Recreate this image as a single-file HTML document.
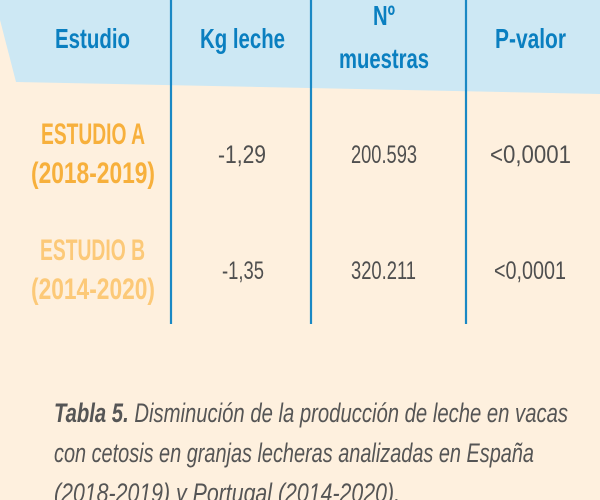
<!DOCTYPE html>
<html><head><meta charset="utf-8"><style>
html,body{margin:0;padding:0;background:#fef0de;}
svg{display:block;font-family:"Liberation Sans",sans-serif;}
</style></head><body>
<svg width="600" height="500" viewBox="0 0 600 500">
<rect width="600" height="500" fill="#fef0de"/>
<polygon points="0,0 600,0 600,94 16,82 0,20" fill="#cde8f4"/>
<g stroke="#1a88c4" stroke-width="2.2">
<line x1="171" y1="0" x2="171" y2="324"/>
<line x1="311" y1="0" x2="311" y2="324"/>
<line x1="466" y1="0" x2="466" y2="324"/>
</g>
<g fill="#0a7fc0" font-weight="bold" font-size="28">
<text x="55" y="48" textLength="75" lengthAdjust="spacingAndGlyphs">Estudio</text>
<text x="200" y="48" textLength="85" lengthAdjust="spacingAndGlyphs">Kg leche</text>
<text x="373" y="25" textLength="22" lengthAdjust="spacingAndGlyphs">Nº</text>
<text x="339" y="68" textLength="90" lengthAdjust="spacingAndGlyphs">muestras</text>
<text x="495" y="48" textLength="71" lengthAdjust="spacingAndGlyphs">P-valor</text>
</g>
<g font-weight="bold" font-size="30">
<text x="41" y="144" fill="#f7b03c" textLength="104" lengthAdjust="spacingAndGlyphs">ESTUDIO A</text>
<text x="31" y="183" fill="#f7b03c" textLength="124" lengthAdjust="spacingAndGlyphs">(2018-2019)</text>
<text x="40" y="260" fill="#fcc978" textLength="105" lengthAdjust="spacingAndGlyphs">ESTUDIO B</text>
<text x="31" y="299" fill="#fcc978" textLength="124" lengthAdjust="spacingAndGlyphs">(2014-2020)</text>
</g>
<g fill="#4f4f4f" font-size="25">
<text x="218" y="163" textLength="48" lengthAdjust="spacingAndGlyphs">-1,29</text>
<text x="351" y="163" textLength="66" lengthAdjust="spacingAndGlyphs">200.593</text>
<text x="490" y="163" textLength="81" lengthAdjust="spacingAndGlyphs">&lt;0,0001</text>
<text x="222" y="279" textLength="42" lengthAdjust="spacingAndGlyphs">-1,35</text>
<text x="351" y="279" textLength="65" lengthAdjust="spacingAndGlyphs">320.211</text>
<text x="494" y="279" textLength="72" lengthAdjust="spacingAndGlyphs">&lt;0,0001</text>
</g>
<g fill="#555" font-style="italic" font-size="27">
<text x="54" y="422" textLength="514" lengthAdjust="spacingAndGlyphs"><tspan font-weight="bold">Tabla 5.</tspan> Disminución de la producción de leche en vacas</text>
<text x="54" y="462" textLength="480" lengthAdjust="spacingAndGlyphs">con cetosis en granjas lecheras analizadas en España</text>
<text x="54" y="502" textLength="346" lengthAdjust="spacingAndGlyphs">(2018-2019) y Portugal (2014-2020).</text>
</g>
</svg>
</body></html>
